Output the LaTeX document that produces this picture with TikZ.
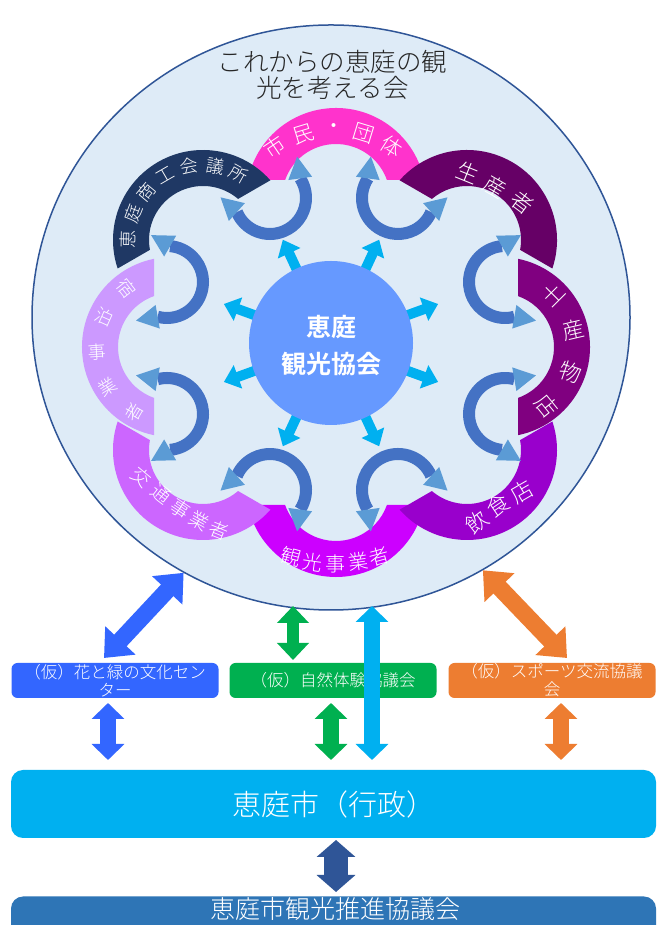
\documentclass[tikz,border=0pt]{standalone}
\usepackage{fontspec}
\usetikzlibrary{calc,arrows.meta,shapes.geometric}
\IfFontExistsTF{Noto Sans CJK JP Light}
  {\newfontfamily\jp{Noto Sans CJK JP Light}}
  {\newfontfamily\jp{Noto Sans CJK JP}}
\IfFontExistsTF{Noto Sans CJK JP Bold}
  {\newfontfamily\jpb{Noto Sans CJK JP Bold}}
  {\newfontfamily\jpb{Noto Sans CJK JP}[FakeBold=1.5]}
\definecolor{cBg}{HTML}{DEEBF7}
\definecolor{cBorder}{HTML}{2F5597}
\definecolor{cTitle}{HTML}{262626}
\definecolor{cPink}{HTML}{FF33CC}
\definecolor{cSeisan}{HTML}{660066}
\definecolor{cMiyage}{HTML}{800080}
\definecolor{cInshoku}{HTML}{9900CC}
\definecolor{cKanko}{HTML}{CC00FF}
\definecolor{cKotsu}{HTML}{CC66FF}
\definecolor{cShuku}{HTML}{CC99FF}
\definecolor{cShoko}{HTML}{1F3864}
\definecolor{cCenter}{HTML}{6699FF}
\definecolor{cCyan}{HTML}{00B0F0}
\definecolor{cBody}{HTML}{4472C4}
\definecolor{cHead}{HTML}{5B9BD5}
\definecolor{cBlue}{HTML}{3366FF}
\definecolor{cGreen}{HTML}{00B050}
\definecolor{cOrange}{HTML}{ED7D31}
\definecolor{cDark}{HTML}{2F5597}
\definecolor{cBottom}{HTML}{2E75B6}
% ring segment: centre, outward angle, colour
\newcommand\ringseg[3]{%
  \fill[#3] ($(#1)+(#2-78.46:90)$) arc[start angle=#2-78.46, end angle=#2+78.46, radius=90]
    -- ($(#1)+(#2+70.53:54)$) arc[start angle=#2+70.53, end angle=#2-70.53, radius=54] -- cycle;}
% curved double arrow: centre, opening angle
\newcommand\curvarr[2]{%
  \draw[cbody] ($(#1)+(#2+85:36)$) arc[start angle=#2+85, end angle=#2+275, radius=36];
  \fill[chead] ($(#1)+(#2+85:36)+(#2+110:12)$) -- ($(#1)+(#2+85:36)+(#2-70:12)$)
     -- ($(#1)+(#2+85:36)+(#2+20:22)$) -- cycle;
  \fill[chead] ($(#1)+(#2+275:36)+(#2+70:12)$) -- ($(#1)+(#2+275:36)+(#2-110:12)$)
     -- ($(#1)+(#2+275:36)+(#2-20:22)$) -- cycle;}
\begin{document}
\begin{tikzpicture}[x=1pt,y=1pt,
  every node/.style={inner sep=0pt},
  segm/.style={text=white, font=\jp\fontsize{21}{21}\selectfont},
  segmb/.style={text=white, font=\jp\fontsize{20}{20}\selectfont},
  segmk/.style={text=white, font=\jp\fontsize{19}{19}\selectfont},
  segsm/.style={text=white, font=\jp\fontsize{18}{18}\selectfont},
  seglg/.style={text=white, font=\jp\fontsize{22}{22}\selectfont},
  cbody/.style={draw=cBody, line width=12pt},
  chead/.style={fill=cHead},
  radarr/.style={draw=cCyan, line width=10pt, -{Triangle[width=24pt,length=15pt]}},
  smallbox/.style={rounded corners=6pt, minimum height=35pt, minimum width=207pt,
    text=white, align=center, font=\jp\fontsize{16.5}{18}\selectfont},
  bigbox/.style={rounded corners=12pt, minimum width=645pt, text=white},
  diagarr/.style={line width=17pt, {Triangle[width=40pt,length=24pt]}-{Triangle[width=40pt,length=24pt]}},
  varr/.style={line width=12pt, {Triangle[width=31pt,length=17pt]}-{Triangle[width=31pt,length=17pt]}},
  varrb/.style={line width=16pt, {Triangle[width=32pt,length=16pt]}-{Triangle[width=32pt,length=16pt]}},
  varrd/.style={line width=24pt, {Triangle[width=38pt,length=17pt]}-{Triangle[width=38pt,length=17pt]}},
]
\useasboundingbox (0,0) rectangle (663,925);
\clip (0,0) rectangle (663,925);
\fill[white] (0,0) rectangle (663,925);

% big circle
\node[ellipse, draw=cBorder, line width=1.5pt, fill=cBg, minimum width=598pt, minimum height=585pt] (big) at (331,607.5) {};
\node[text=cTitle, align=center, font=\jp\fontsize{25.5}{26}\selectfont] (title) at (332.5,850.5)
  {これからの恵庭の観\\光を考える会};

% ring segments
\coordinate (Spink) at (336,727);
\coordinate (Sseisan) at (467,685);
\coordinate (Smiyage) at (500,578);
\coordinate (Sinshoku) at (467,475);
\coordinate (Skanko) at (336,438);
\coordinate (Skotsu) at (203,475);
\coordinate (Sshuku) at (172,578);
\coordinate (Sshoko) at (203,685);
\ringseg{Spink}{90}{cPink}
\ringseg{Skanko}{-90}{cKanko}
\ringseg{Sseisan}{60}{cSeisan}
\ringseg{Sshoko}{120}{cShoko}
\ringseg{Sinshoku}{-60}{cInshoku}
\ringseg{Skotsu}{-120}{cKotsu}
\ringseg{Smiyage}{0}{cMiyage}
\ringseg{Sshuku}{180}{cShuku}

% segment texts (image coordinates, y down)
\foreach \x/\y/\r/\c [count=\i] in {275/147/34/市, 303/134/17/民, 334/129/0/・, 364/133/-17/団, 392/147/-33/体}
  \node[segm, rotate=\r] (tpink\i) at (\x,925-\y) {\c};
\foreach \x/\y/\r/\c [count=\i] in {468/173/-22/生, 495/187/-30/産, 522/202/-37/者}
  \node[seglg, rotate=\r] (tseisan\i) at (\x,925-\y) {\c};
\foreach \x/\y/\r/\c [count=\i] in {553/294/45/土, 573/330/13/産, 571/372/-19/物, 547/406/-51/店}
  \node[seglg, rotate=\r] (tmiyage\i) at (\x,925-\y) {\c};
\foreach \x/\y/\r/\c [count=\i] in {477/522/38/飲, 498/505/34/食, 522/492/30/店}
  \node[seglg, rotate=\r] (tinshoku\i) at (\x,925-\y) {\c};
\foreach \x/\y/\r/\c [count=\i] in {291/557/-15/観, 312/562/-8/光, 335/564/0/事, 358/562/8/業, 379/557/15/者}
  \node[segmb, rotate=\r] (tkanko\i) at (\x,925-\y) {\c};
\foreach \x/\y/\r/\c [count=\i] in {141/477/-40/交, 161/494/-38/通, 180/509/-34/事, 199/521/-29/業, 219/530/-22/者}
  \node[segmk, rotate=\r] (tkotsu\i) at (\x,925-\y) {\c};
\foreach \x/\y/\r/\c [count=\i] in {126/288/-52/宿, 104/317/-24/泊, 97/352/4/事, 108/387/32/業, 134/412/60/者}
  \node[segsm, rotate=\r] (tshuku\i) at (\x,925-\y) {\c};
\foreach \x/\y/\r/\c [count=\i] in {128/239/89/恵, 133/214/69/庭, 146/192/50/商, 165/175/30/工, 189/166/11/会, 215/166/-9/議, 239/174/-29/所}
  \node[segsm, rotate=\r] (tshoko\i) at (\x,925-\y) {\c};

% curved double arrows between segments
\coordinate (Atl) at (270,727);
\coordinate (Atr) at (398,727);
\coordinate (Aru) at (505,643);
\coordinate (Arl) at (505,511);
\coordinate (Abr) at (398,435);
\coordinate (Abl) at (270,435);
\coordinate (All) at (167,511);
\coordinate (Alu) at (167,643);
\curvarr{Atl}{118}
\curvarr{Atr}{62}
\curvarr{Aru}{10}
\curvarr{Arl}{-10}
\curvarr{Abr}{-62}
\curvarr{Abl}{-118}
\curvarr{All}{190}
\curvarr{Alu}{170}

% central circle with radial arrows
\coordinate (ccpt) at (331,582);
\foreach \a in {20,65,115,160,200,245,295,340}
  \draw[radarr] ($(ccpt)+(\a:72)$) -- ($(ccpt)+(\a:114)$);
\node[circle, fill=cCenter, minimum size=164pt] (cc) at (ccpt) {};
\node[text=white, align=center, font=\jpb\fontsize{25}{37}\selectfont] (cctext) at (331,579) {恵庭\\観光協会};

% lower boxes
\node[smallbox, fill=cBlue] (bluebox) at (115,244.5) {（仮）花と緑の文化セン\\ター};
\node[smallbox, fill=cGreen] (greenbox) at (333,244.5) {（仮）自然体験協議会};
\node[smallbox, fill=cOrange] (orangebox) at (552,244.5) {（仮）スポーツ交流協議\\会};
\node[bigbox, fill=cCyan, minimum height=68pt, font=\jp\fontsize{29}{29}\selectfont] (gyosei) at (333.5,121) {恵庭市（行政）};
\node[bigbox, fill=cBottom, minimum height=77pt] (suishin) at (333.5,-10) {};
\node[text=white, font=\jp\fontsize{25}{25}\selectfont] (suishintxt) at (335,15.5) {恵庭市観光推進協議会};

% connectors
\coordinate (bA) at (104,267);
\coordinate (oA) at (567,267);
\coordinate (gA) at (293,265);
\coordinate (gB) at (293,319);
\coordinate (cA) at (372,165);
\coordinate (cB) at (372,319);
\coordinate (lbA) at (108,222);
\coordinate (lbB) at (108,165);
\coordinate (lgA) at (331,222);
\coordinate (lgB) at (331,165);
\coordinate (loA) at (561,222);
\coordinate (loB) at (561,165);
\coordinate (dA) at (336,85);
\coordinate (dB) at (336,33);
\draw[diagarr, draw=cBlue, fill=cBlue] (bA) -- (big.240.6);
\draw[diagarr, draw=cOrange, fill=cOrange] (oA) -- (big.-59.7);
\draw[varr, draw=cGreen, fill=cGreen] (gA) -- (gB);
\draw[varrb, draw=cCyan, fill=cCyan] (cA) -- (cB);
\draw[varrb, draw=cBlue, fill=cBlue] (lbA) -- (lbB);
\draw[varrb, draw=cGreen, fill=cGreen] (lgA) -- (lgB);
\draw[varrb, draw=cOrange, fill=cOrange] (loA) -- (loB);
\draw[varrd, draw=cDark, fill=cDark] (dA) -- (dB);
\end{tikzpicture}
\end{document}
